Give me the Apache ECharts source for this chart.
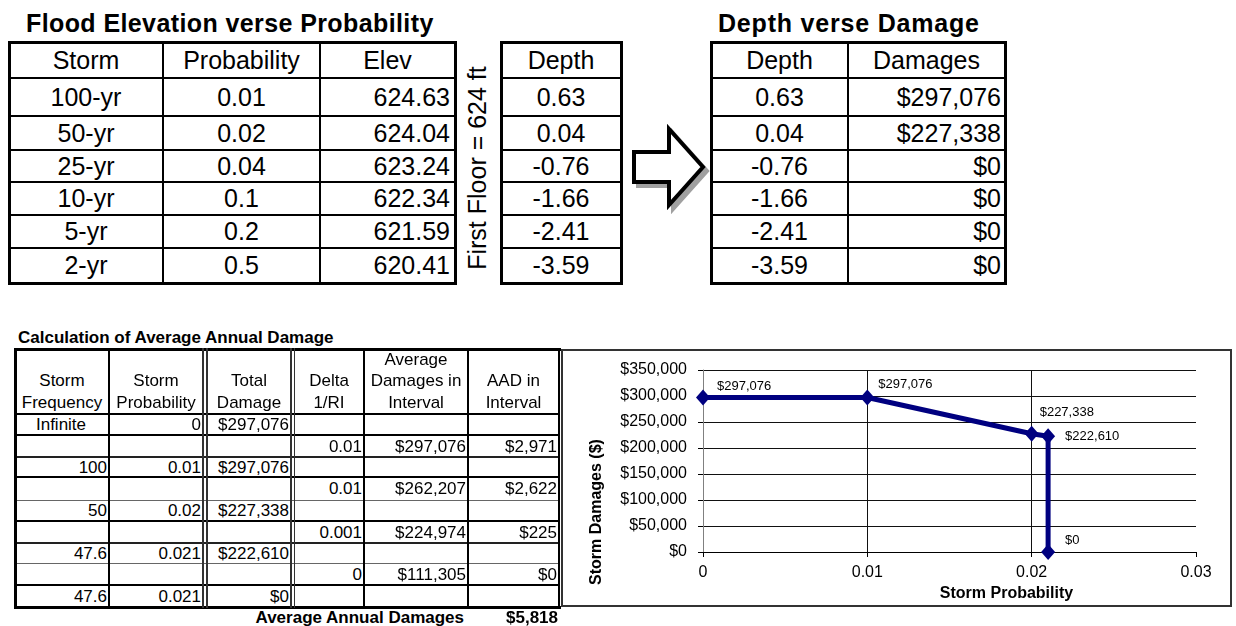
<!DOCTYPE html>
<html><head><meta charset="utf-8">
<script src="https://cdn.jsdelivr.net/npm/echarts@6/dist/echarts.min.js"></script>
<style>
html,body{margin:0;padding:0;background:#fff;}
body{width:1236px;height:626px;overflow:hidden;position:relative;font-family:"Liberation Sans",Arial,sans-serif;color:#000;}
.t{position:absolute;white-space:nowrap;display:flex;box-sizing:border-box;line-height:1;}
.l{position:absolute;background:#000;}
</style></head><body>
<div id="chart" style="position:absolute;left:561px;top:349px;width:671px;height:258px;"></div>
<div style="position:absolute;left:561px;top:349px;width:671px;height:258px;border:2px solid #333;box-sizing:border-box;pointer-events:none;"></div>
<svg style="position:absolute;left:620px;top:115px" width="100" height="105">
  <polygon points="14,37 49,37 49,14 83,52 49,90 49,67 14,67" fill="#a0a0a0" stroke="#a0a0a0" stroke-width="4" transform="translate(4,4)"/>
  <polygon points="14,37 49,37 49,14 83,52 49,90 49,67 14,67" fill="#fff" stroke="#000" stroke-width="4" stroke-linejoin="miter"/>
</svg>
<script>
// ---------- data ----------
const floodStorms = ['100-yr', '50-yr', '25-yr', '10-yr', '5-yr', '2-yr'];
const floodProbability = ['0.01', '0.02', '0.04', '0.1', '0.2', '0.5'];
const floodElevation = ['624.63', '624.04', '623.24', '622.34', '621.59', '620.41'];
const floodDepth = ['0.63', '0.04', '-0.76', '-1.66', '-2.41', '-3.59'];
const depthDamages = [297076, 227338, 0, 0, 0, 0];
const firstFloorLabel = 'First Floor = 624 ft';

const aadFrequency = ['Infinite', '100', '50', '47.6', '47.6'];
const aadProbability = [0, 0.01, 0.02, 0.021, 0.021];
const aadTotalDamage = [297076, 297076, 227338, 222610, 0];
const aadDelta = ['0.01', '0.01', '0.001', '0'];
const aadAvgDamage = [297076, 262207, 224974, 111305];
const aadInterval = [2971, 2622, 225, 0];
const aadAnnualTotal = 5818;

const xTickLabels = ['0', '0.01', '0.02', '0.03'];
const yTickValues = [0, 50000, 100000, 150000, 200000, 250000, 300000, 350000];

// ---------- helpers ----------
const money = v => '$' + Number(v).toLocaleString('en-US');
function line(x, y, w, h, c) {
  const d = document.createElement('div'); d.className = 'l';
  d.style.cssText = `left:${x}px;top:${y}px;width:${w}px;height:${h}px;background:${c || '#000'}`;
  document.body.appendChild(d);
}
function cell(str, x0, x1, y0, y1, align, style) {
  const d = document.createElement('div'); d.className = 't';
  const jc = align === 'right' ? 'flex-end' : align === 'left' ? 'flex-start' : 'center';
  d.style.cssText = `left:${x0}px;top:${y0}px;width:${x1 - x0}px;height:${y1 - y0}px;align-items:center;justify-content:${jc};${style || ''}`;
  d.textContent = str;
  document.body.appendChild(d);
  return d;
}
function hline(x0, x1, y, w, c) { line(x0 - w / 2, y - w / 2, x1 - x0 + w, w, c); }
function vline(x, y0, y1, w, c) { line(x - w / 2, y0 - w / 2, w, y1 - y0 + w, c); }
function boxTable(xs, ys, outer, inner) {
  const x0 = xs[0], x1 = xs[xs.length - 1], y0 = ys[0], y1 = ys[ys.length - 1];
  ys.forEach((y, i) => hline(x0, x1, y, (i === 0 || i === ys.length - 1) ? outer : inner));
  xs.forEach((x, i) => vline(x, y0, y1, (i === 0 || i === xs.length - 1) ? outer : inner));
}

// ---------- top tables ----------
const topRows = [42, 78, 116, 150, 182, 215, 248, 283];
const bigFont = 'font-size:25px;';
cell('Flood Elevation verse Probability', 20, 470, 8, 38, 'left', 'font-size:25px;font-weight:bold;padding-left:6px;letter-spacing:0.4px;');
cell('Depth verse Damage', 712, 1010, 8, 38, 'left', 'font-size:25px;font-weight:bold;padding-left:6px;letter-spacing:0.8px;');

const t1x = [9, 163, 320, 455];
boxTable(t1x, topRows, 3, 2);
cell('Storm', t1x[0], t1x[1], topRows[0], topRows[1], 'center', bigFont);
cell('Probability', t1x[1], t1x[2], topRows[0], topRows[1], 'center', bigFont);
cell('Elev', t1x[2], t1x[3], topRows[0], topRows[1], 'center', bigFont);
floodStorms.forEach((s, i) => {
  cell(s, t1x[0], t1x[1], topRows[i + 1], topRows[i + 2], 'center', bigFont);
  cell(floodProbability[i], t1x[1], t1x[2], topRows[i + 1], topRows[i + 2], 'center', bigFont);
  cell(floodElevation[i], t1x[2], t1x[3], topRows[i + 1], topRows[i + 2], 'right', bigFont + 'padding-right:5px;');
});

cell(firstFloorLabel, 477 - 120, 477 + 120, 168 - 15, 168 + 15, 'center', 'font-size:25px;transform:rotate(-90deg);');

const t2x = [501, 621];
boxTable(t2x, topRows, 3, 2);
cell('Depth', t2x[0], t2x[1], topRows[0], topRows[1], 'center', bigFont);
floodDepth.forEach((d, i) => cell(d, t2x[0], t2x[1], topRows[i + 1], topRows[i + 2], 'center', bigFont));

const t3x = [711, 848, 1005];
boxTable(t3x, topRows, 3, 2);
cell('Depth', t3x[0], t3x[1], topRows[0], topRows[1], 'center', bigFont);
cell('Damages', t3x[1], t3x[2], topRows[0], topRows[1], 'center', bigFont);
floodDepth.forEach((d, i) => {
  cell(d, t3x[0], t3x[1], topRows[i + 1], topRows[i + 2], 'center', bigFont);
  cell(money(depthDamages[i]), t3x[1], t3x[2], topRows[i + 1], topRows[i + 2], 'right', bigFont + 'padding-right:4px;');
});

// ---------- bottom table ----------
cell('Calculation of Average Annual Damage', 18, 400, 328, 346, 'left', 'font-size:17px;font-weight:bold;');
const bx = [15, 109, 205, 293, 364, 468, 559];
const by = [349, 414, 435, 457, 477, 500, 521, 543, 563, 585, 607];
const rowW = [3, 1.5, 2.5, 1.5, 2.5, 1, 2.5, 1.5, 1, 2.5, 3];
const rowC = ['#000', '#000', '#000', '#222', '#000', '#666', '#000', '#222', '#666', '#000', '#000'];
by.forEach((y, i) => hline(bx[0], bx[bx.length - 1], y, rowW[i], rowC[i]));
vline(bx[0], by[0], by[by.length - 1], 3);
vline(bx[1], by[0], by[by.length - 1], 2);
vline(203, by[0], by[by.length - 1], 1.2, '#333'); vline(207, by[0], by[by.length - 1], 1.2, '#333');
vline(291, by[0], by[by.length - 1], 1.2, '#333'); vline(294.5, by[0], by[by.length - 1], 1.2, '#333');
vline(bx[4], by[0], by[by.length - 1], 2);
vline(bx[5], by[0], by[by.length - 1], 2);
vline(bx[6], by[0], by[by.length - 1], 2.5);

const hdr = ['Storm\nFrequency', 'Storm\nProbability', 'Total\nDamage', 'Delta\n1/RI', 'Average\nDamages in\nInterval', 'AAD in\nInterval'];
const hx0 = [15, 109, 207, 294, 364, 468], hx1 = [109, 203, 291, 364, 468, 559];
const sm = 'font-size:17px;';
hdr.forEach((h, i) => {
  cell(h, hx0[i], hx1[i], by[0] + 2, by[1] - 1, 'center', sm + 'white-space:pre-line;text-align:center;line-height:21.5px;align-items:flex-end;');
});
const rp = 'padding-right:2px;';
aadFrequency.forEach((f, k) => {
  const r = 2 * k;
  cell(f, hx0[0], hx1[0], by[r + 1], by[r + 2], k === 0 ? 'center' : 'right', sm + rp);
  cell(String(aadProbability[k]), hx0[1], hx1[1], by[r + 1], by[r + 2], 'right', sm + rp);
  cell(money(aadTotalDamage[k]), hx0[2], hx1[2], by[r + 1], by[r + 2], 'right', sm + rp);
});
aadDelta.forEach((dv, k) => {
  const r = 2 * k + 1;
  cell(dv, hx0[3], hx1[3], by[r + 1], by[r + 2], 'right', sm + rp);
  cell(money(aadAvgDamage[k]), hx0[4], hx1[4], by[r + 1], by[r + 2], 'right', sm + rp);
  cell(money(aadInterval[k]), hx0[5], hx1[5], by[r + 1], by[r + 2], 'right', sm + rp);
});
cell('Average Annual Damages', 200, 464, 608, 626, 'right', 'font-size:17px;font-weight:bold;');
cell(money(aadAnnualTotal), 480, 558, 608, 626, 'right', 'font-size:17px;font-weight:bold;');

// ---------- chart ----------
const labelOffsets = [[2, -11], [-1, -13], [-4, -21], [5, 0], [5, -12]];
const seriesData = aadProbability.map((p, i) => ({
  value: [p, aadTotalDamage[i]],
  label: { offset: labelOffsets[i] }
}));
const chart = echarts.init(document.getElementById('chart'), null, { renderer: 'canvas' });
chart.setOption({
  animation: false,
  textStyle: { fontFamily: '"Liberation Sans", Arial, sans-serif', color: '#000' },
  grid: { left: 142, top: 21, right: 36, bottom: 55, containLabel: false, outerBoundsMode: 'none' },
  xAxis: {
    type: 'value', min: 0, max: 0.03, interval: 0.01,
    axisLine: { show: true, onZero: false, lineStyle: { color: '#000', width: 1 } },
    axisTick: { show: true, length: 5, lineStyle: { color: '#000' } },
    axisLabel: { fontSize: 16, color: '#000', margin: 13, formatter: (v) => xTickLabels[Math.round(v * 100)] },
    splitLine: { show: true, showMinLine: false, showMaxLine: false, lineStyle: { color: '#111', width: 1 } },
    name: 'Storm Probability', nameLocation: 'middle', nameGap: 29,
    nameTextStyle: { fontWeight: 'bold', fontSize: 16, color: '#000', padding: [0, 0, 0, 114] }
  },
  yAxis: {
    type: 'value', min: yTickValues[0], max: yTickValues[yTickValues.length - 1], interval: 50000,
    axisLine: { show: true, lineStyle: { color: '#808080', width: 1 } },
    axisTick: { show: true, length: 5, lineStyle: { color: '#000' } },
    axisLabel: { fontSize: 16, color: '#000', margin: 16, formatter: (v) => money(v) },
    splitLine: { show: true, lineStyle: { color: '#111', width: 1 } },
    name: 'Storm Damages ($)', nameLocation: 'middle', nameRotate: 90, nameGap: 98,
    nameTextStyle: { fontWeight: 'bold', fontSize: 16, color: '#000', padding: [0, 102, 0, 0] }
  },
  series: [{
    type: 'line', data: seriesData,
    symbol: 'diamond', symbolSize: [14, 16],
    lineStyle: { color: '#000080', width: 5 },
    itemStyle: { color: '#000080' },
    label: {
      show: true, position: 'right', distance: 5, fontSize: 13, color: '#000',
      formatter: (p) => money(p.value[1])
    }
  }]
});
</script>
</body></html>
